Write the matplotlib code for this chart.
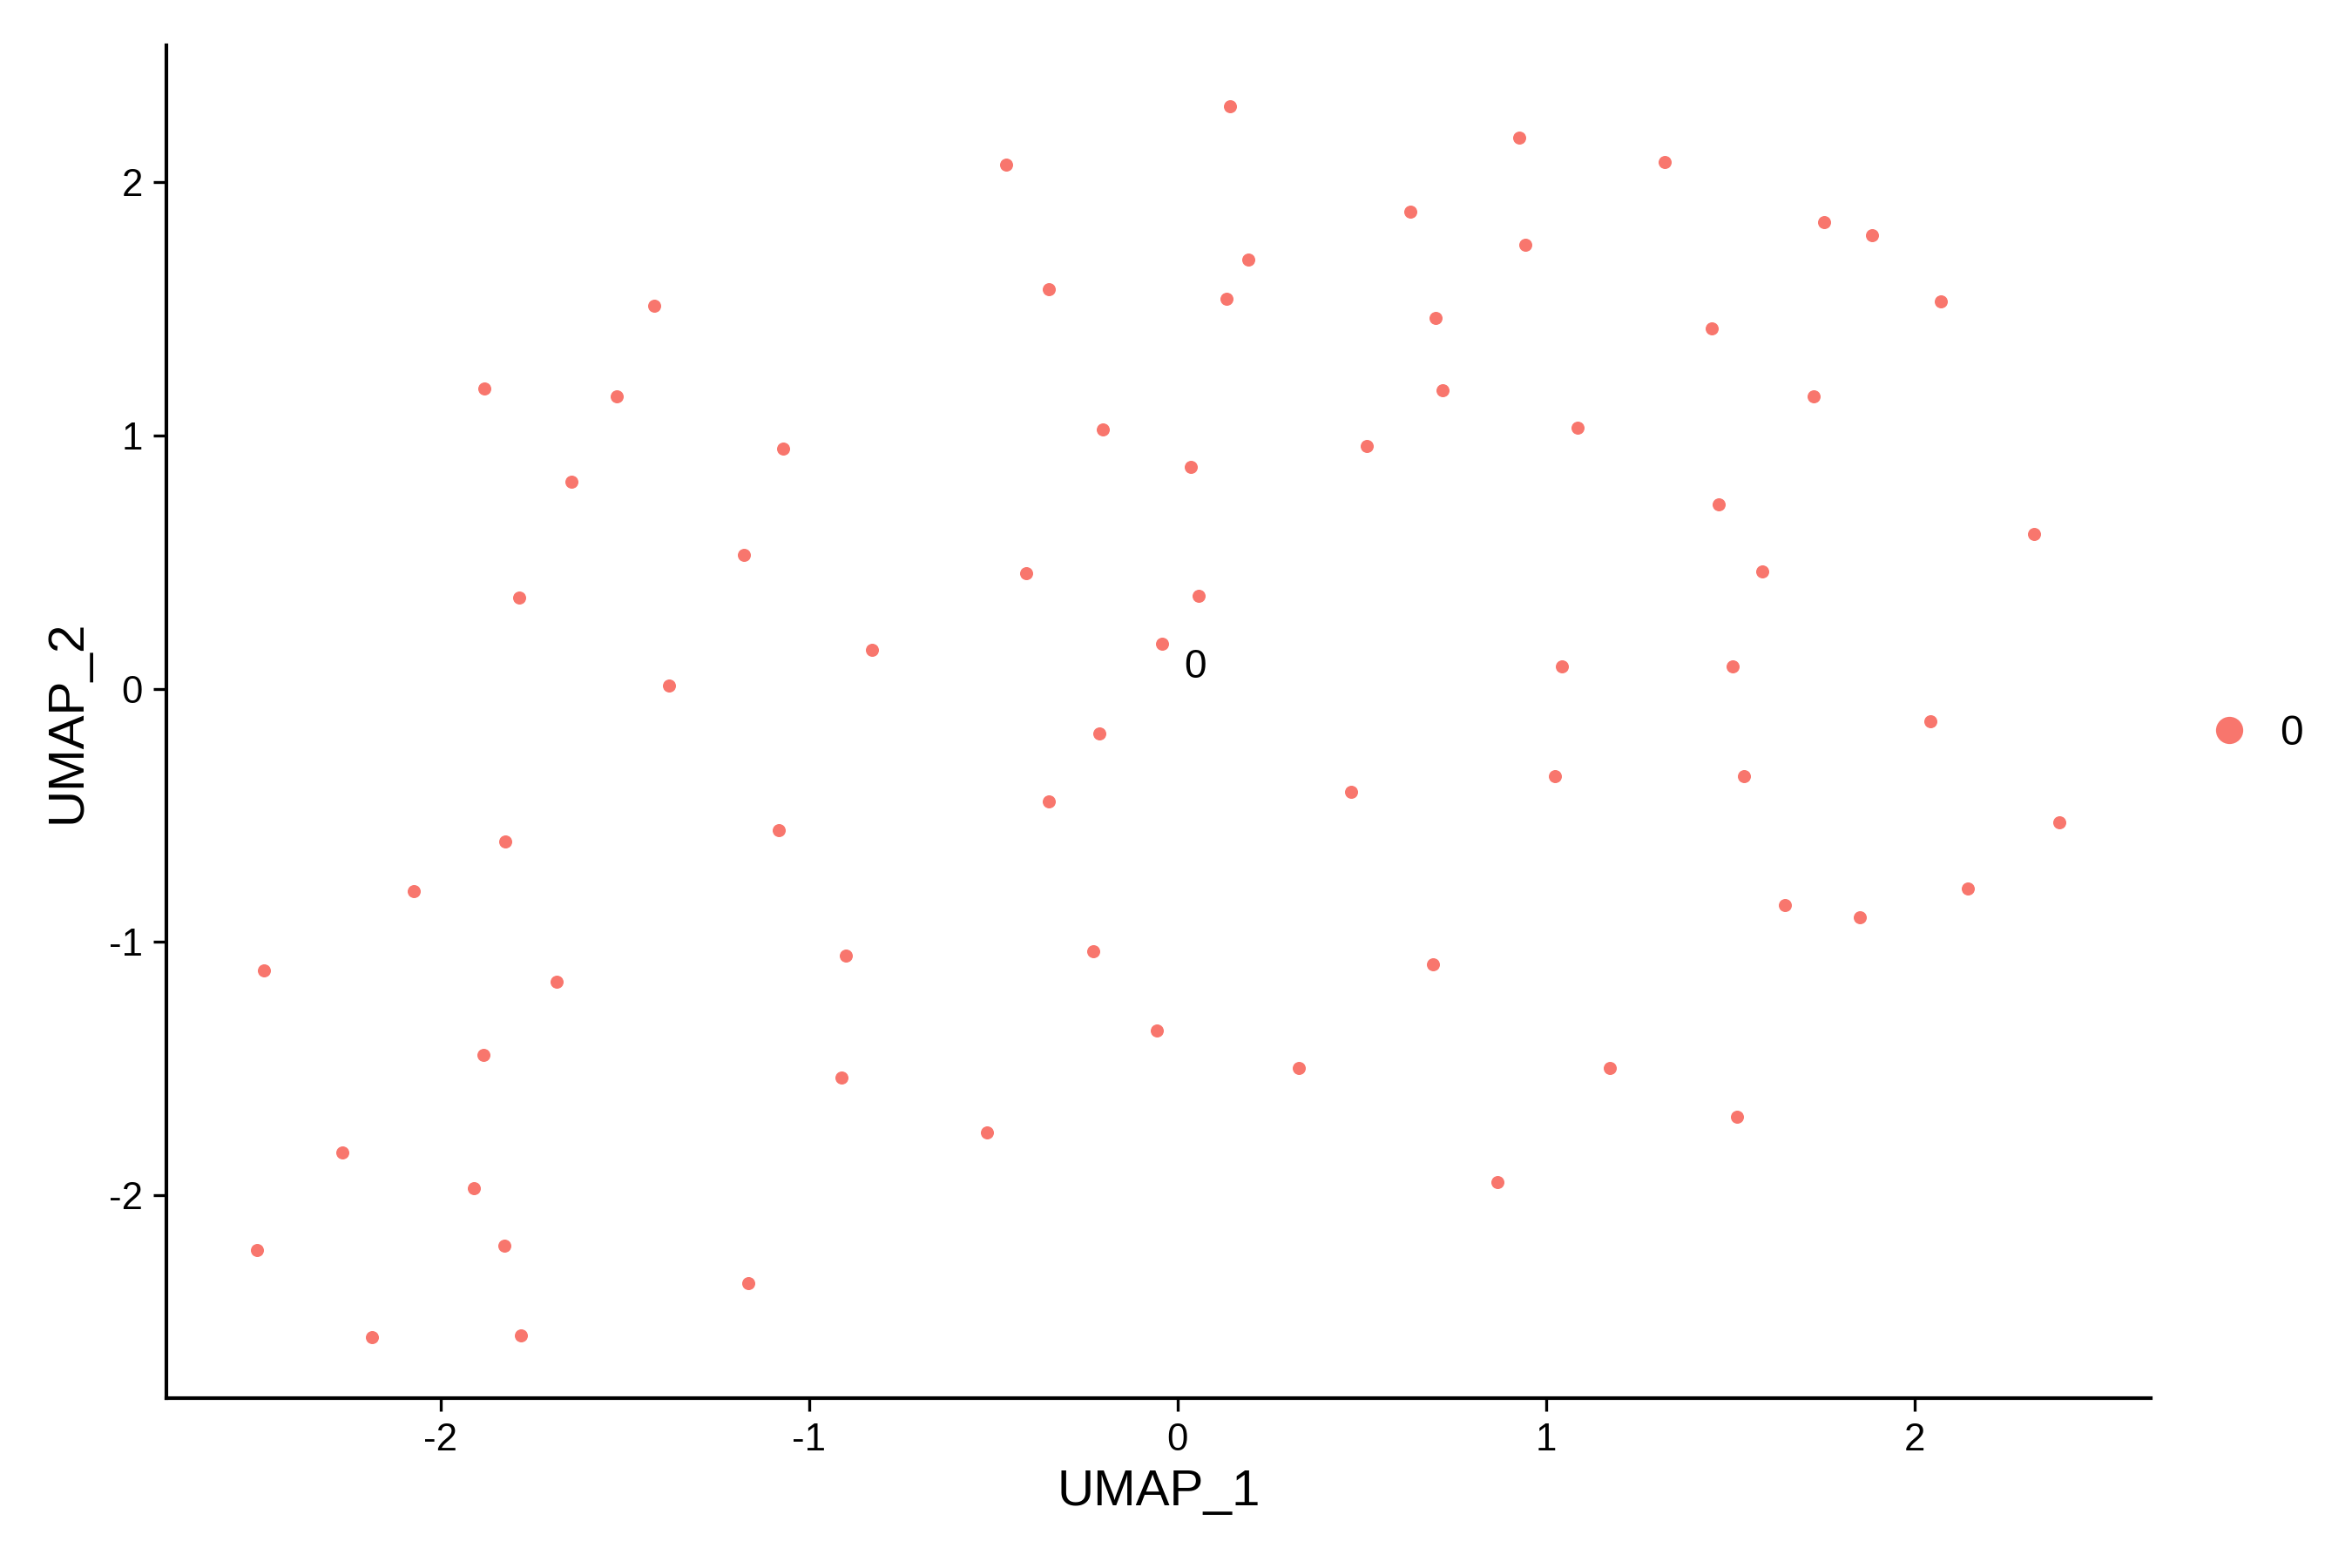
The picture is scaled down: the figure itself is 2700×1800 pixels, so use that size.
import matplotlib
matplotlib.use("Agg")
import matplotlib.pyplot as plt
from matplotlib.lines import Line2D

plt.rcParams['font.family'] = ['Liberation Sans', 'DejaVu Sans']

# ---- data ----
umap_1 = [0.142, 0.928, -0.464, 1.322, 0.631, 1.754, 1.884, 0.944, 0.191, -0.350,
          0.134, 2.071, -1.420, 0.700, 1.449, -1.880, 0.720, -1.522, 1.725, -0.203,
          1.086, -1.070, 0.513, 0.037, -1.644, 1.469, 2.323, -1.176, -0.411, 1.587,
          -1.786, 0.057, -0.830, -0.041, -1.379, 1.042, 1.506, 2.043, -0.212, 0.472,
          1.025, 1.538, -0.350, -1.082, -1.823, 2.393, -2.071, 2.144, 1.648, 1.852,
          -2.478, -0.899, -0.228, 0.692, -1.685, -0.057, -1.884, 0.330, 1.172, -0.911,
          1.518, -0.517, -2.267, 0.867, -1.908, -2.498, -1.827, -1.164, -2.185, -1.782]
umap_2 = [2.299, 2.175, 2.068, 2.080, 1.884, 1.843, 1.790, 1.754, 1.695, 1.576,
          1.541, 1.529, 1.511, 1.464, 1.422, 1.185, 1.179, 1.156, 1.156, 1.025,
          1.031, 0.948, 0.960, 0.877, 0.818, 0.729, 0.610, 0.527, 0.456, 0.462,
          0.361, 0.367, 0.154, 0.178, 0.012, 0.089, 0.089, -0.130, -0.178, -0.409,
          -0.344, -0.344, -0.444, -0.557, -0.604, -0.527, -0.800, -0.788, -0.853, -0.901,
          -1.114, -1.055, -1.037, -1.090, -1.156, -1.351, -1.446, -1.499, -1.499, -1.535,
          -1.689, -1.754, -1.831, -1.950, -1.973, -2.216, -2.199, -2.347, -2.560, -2.554]
cluster_name = "0"
label_x, label_y = 0.049, 0.083
x_ticks = [-2, -1, 0, 1, 2]
y_ticks = [-2, -1, 0, 1, 2]
color = "#F8766D"

fig = plt.figure(figsize=(9, 6), dpi=300)
ax = fig.add_axes([0.0708, 0.1081, 0.9145 - 0.0708, 0.9713 - 0.1081])

ax.scatter(umap_1, umap_2, s=13, c=color, linewidths=0, zorder=3)
ax.text(label_x, label_y, cluster_name, fontsize=11, ha='center', va='center', zorder=4)

ax.set_xlim(-2.743, 2.641)
ax.set_ylim(-2.803, 2.542)
ax.set_xticks(x_ticks)
ax.set_yticks(y_ticks)
ax.set_xticklabels([str(t) for t in x_ticks])
ax.set_yticklabels([str(t) for t in y_ticks])

for s in ['top', 'right']:
    ax.spines[s].set_visible(False)
for s in ['left', 'bottom']:
    ax.spines[s].set_linewidth(1.0)
ax.tick_params(axis='both', length=3.5, width=0.8, labelsize=10.5, pad=3, colors='black')

ax.set_xlabel("UMAP_1", fontsize=14, labelpad=3)
ax.set_ylabel("UMAP_2", fontsize=14, labelpad=5)

# legend
handle = Line2D([0], [0], marker='o', linestyle='none', markersize=7.5,
                markerfacecolor=color, markeredgewidth=0)
fig.legend([handle], [cluster_name], loc='center left', bbox_to_anchor=(0.923, 0.532),
           frameon=False, fontsize=11.5, handletextpad=0.2, borderaxespad=0)

fig.savefig("out.png", dpi=300)
